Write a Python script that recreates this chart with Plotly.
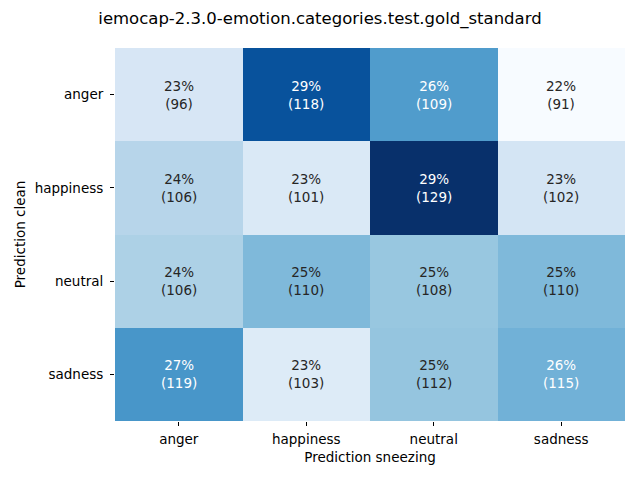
import plotly.graph_objects as go
from plotly.colors import sample_colorscale, unlabel_rgb
import plotly.express as px

title = "iemocap-2.3.0-emotion.categories.test.gold_standard"
categories = ["anger", "happiness", "neutral", "sadness"]
counts = [
    [96, 118, 109, 91],
    [106, 101, 129, 102],
    [106, 110, 108, 110],
    [119, 103, 112, 115],
]
x_label = "Prediction sneezing"
y_label = "Prediction clean"

pct = [[c / sum(row) * 100 for c in row] for row in counts]
flat = [v for row in pct for v in row]
vmin, vmax = min(flat), max(flat)
blues = px.colors.sequential.Blues

fig = go.Figure(go.Heatmap(
    z=pct, x=categories, y=categories, colorscale=blues, zmin=vmin, zmax=vmax,
    showscale=False, xgap=0, ygap=0, hoverinfo="skip",
))

def lum(rgb):
    vals = []
    for v in rgb:
        v = v / 255
        vals.append(v / 12.92 if v <= 0.03928 else ((v + 0.055) / 1.055) ** 2.4)
    return 0.2126 * vals[0] + 0.7152 * vals[1] + 0.0722 * vals[2]

for i, yc in enumerate(categories):
    for j, xc in enumerate(categories):
        t = (pct[i][j] - vmin) / (vmax - vmin)
        col = sample_colorscale(blues, [t])[0]
        rgb = unlabel_rgb(col)
        fc = "#262626" if lum(rgb) > 0.408 else "white"
        fig.add_annotation(x=xc, y=yc, text=f"{round(pct[i][j]):.0f}%<br>({counts[i][j]})",
                           showarrow=False, font=dict(color=fc, size=13.5, family="DejaVu Sans"))

fig.update_layout(
    width=640, height=480,
    margin=dict(l=115, r=15, t=48, b=59),
    paper_bgcolor="white", plot_bgcolor="white",
    font=dict(family="DejaVu Sans", color="black", size=13.5),
    title=dict(text=title, x=0.5, xanchor="center", y=1 - 18 / 480, yanchor="middle",
               font=dict(size=16.5)),
)
fig.update_xaxes(title=dict(text=x_label, standoff=6, font=dict(size=13.5)), ticks="outside",
                 ticklen=4, tickwidth=1, ticklabelstandoff=2,
                 tickcolor="black", showgrid=False, zeroline=False, showline=False)
fig.update_yaxes(title=dict(text=y_label, standoff=5, font=dict(size=13.5)), ticks="outside",
                 ticklen=4, tickwidth=1, ticklabelstandoff=4,
                 tickcolor="black", showgrid=False, zeroline=False, showline=False,
                 autorange="reversed")

fig.write_html("out.html")
